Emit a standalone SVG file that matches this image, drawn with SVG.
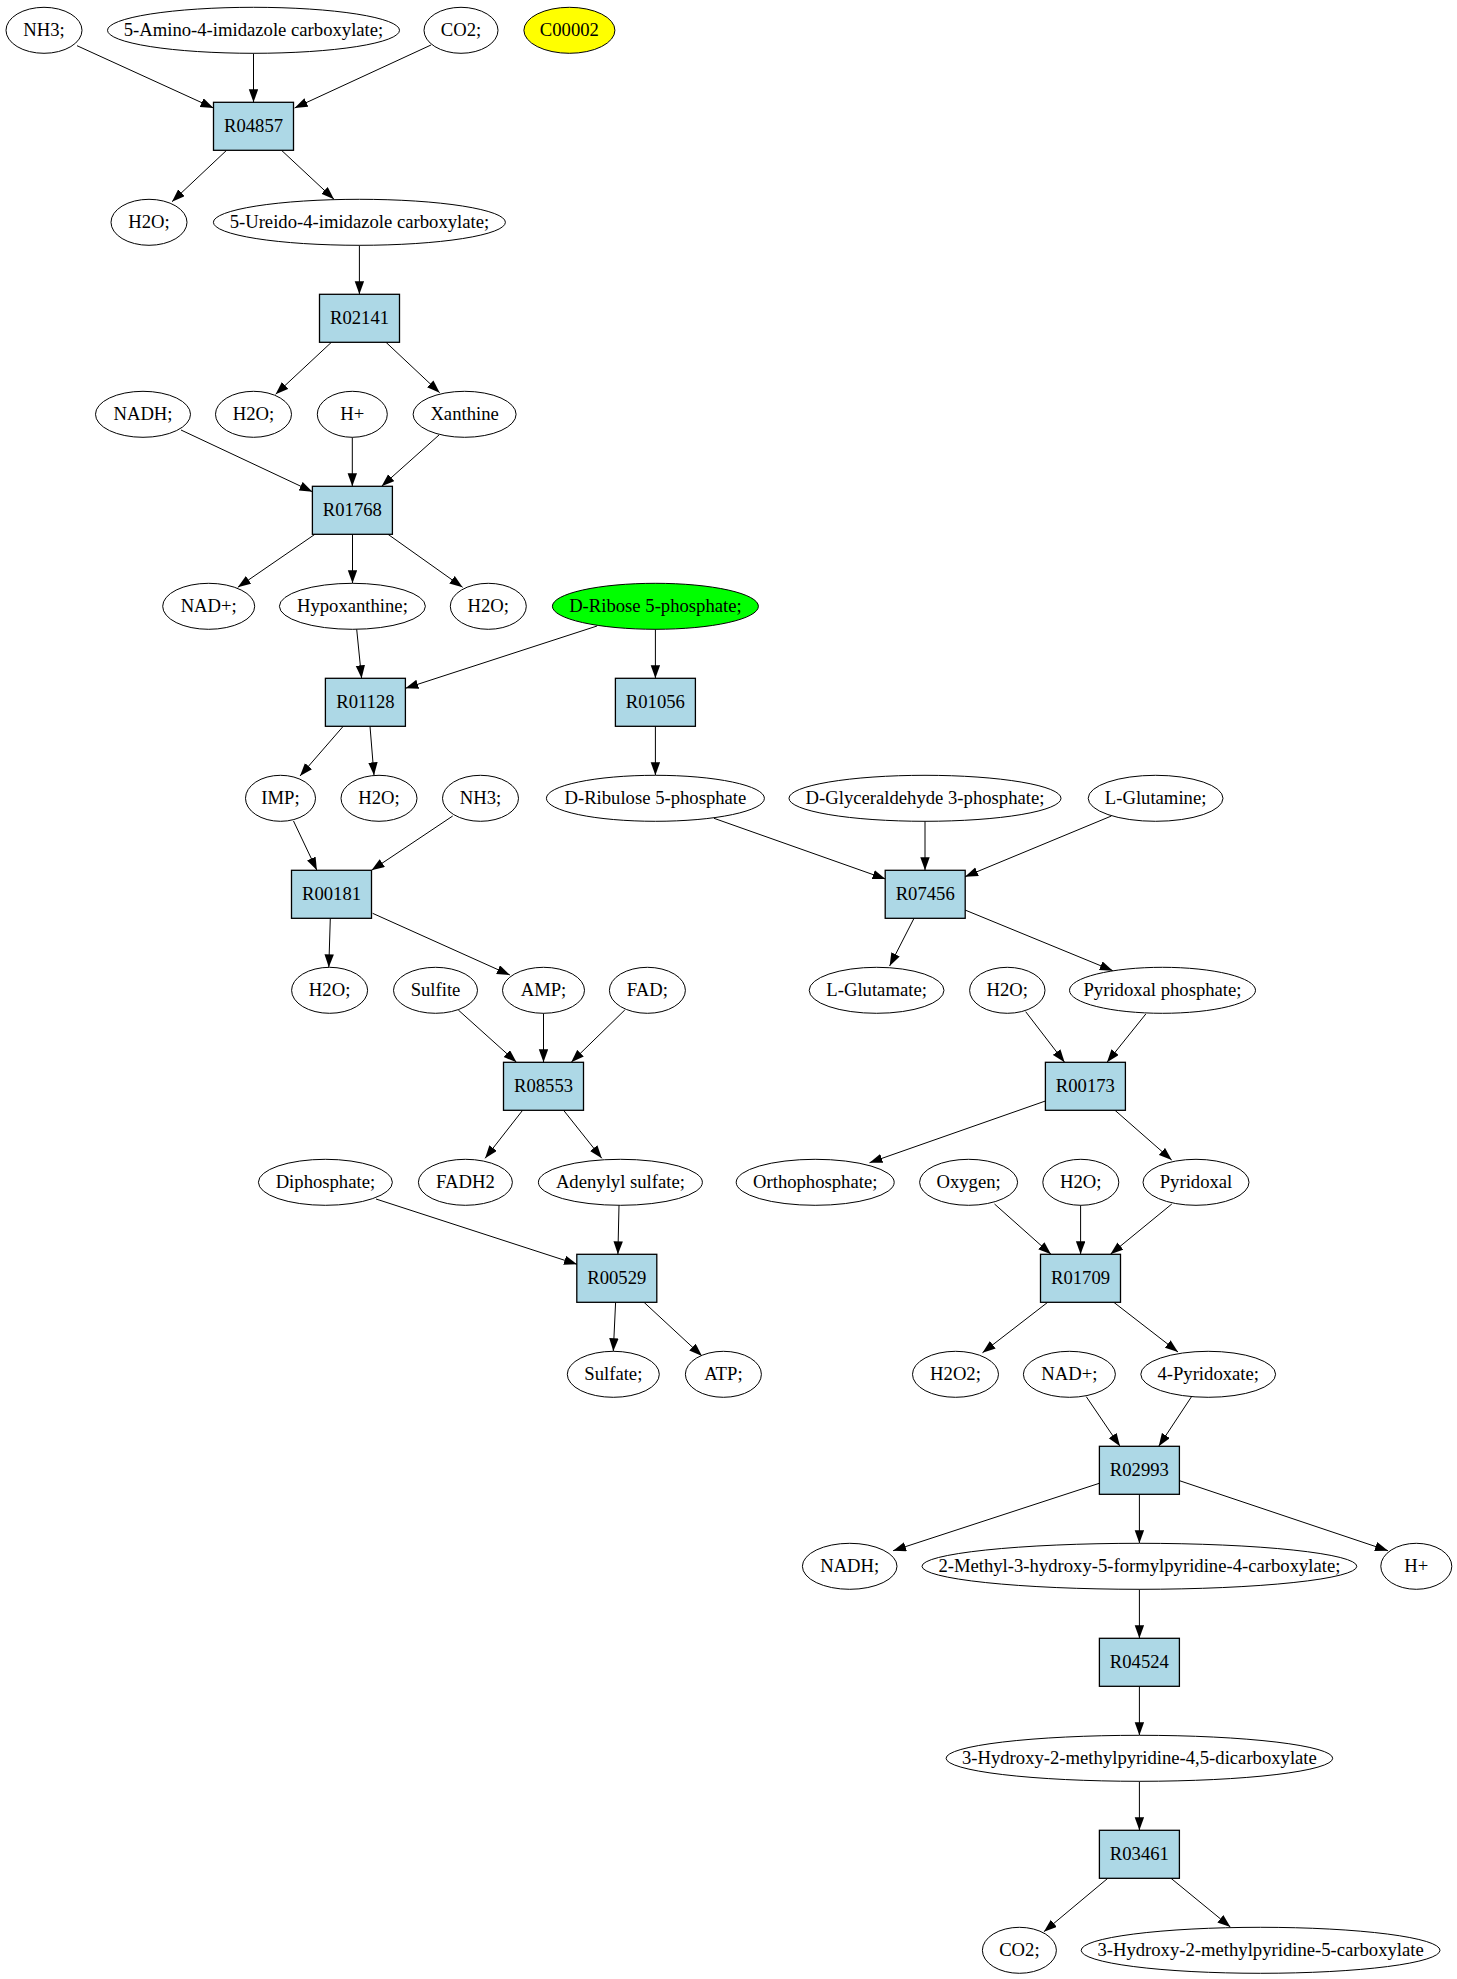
<svg xmlns="http://www.w3.org/2000/svg" width="1457" height="1979" viewBox="0 0 1457 1979">
<style>
.c ellipse{fill:#ffffff;stroke:#000;stroke-width:1}
.r rect{fill:#add8e6;stroke:#000;stroke-width:1.3}
text{font-family:"Liberation Serif","Times New Roman",serif;font-size:18.67px;text-anchor:middle;fill:#000}
#edges line{stroke:#000;stroke-width:1;marker-end:url(#ah)}
</style>
<defs>
<marker id="ah" markerUnits="userSpaceOnUse" markerWidth="14" markerHeight="10" refX="13" refY="4.7" orient="auto">
<path d="M0,0 L13,4.7 L0,9.4 z" fill="#000"/>
</marker>
</defs>
<rect x="0" y="0" width="1457" height="1979" fill="#fff"/>
<g id="edges">
<line x1="77" y1="45.7" x2="213.5" y2="108"/>
<line x1="253.5" y1="53.3" x2="253.5" y2="102.3"/>
<line x1="431" y1="45" x2="294.6" y2="108"/>
<line x1="226.6" y1="150.3" x2="172" y2="201.7"/>
<line x1="281.5" y1="150.3" x2="334" y2="199.3"/>
<line x1="359.4" y1="245.3" x2="359.4" y2="294.3"/>
<line x1="331.4" y1="342.3" x2="275.6" y2="394.3"/>
<line x1="386" y1="342.3" x2="439.7" y2="392.7"/>
<line x1="181" y1="430" x2="312.4" y2="491.7"/>
<line x1="352.3" y1="437.3" x2="352.3" y2="486.3"/>
<line x1="439" y1="435" x2="381.6" y2="486.3"/>
<line x1="314.9" y1="534.3" x2="237.8" y2="587.3"/>
<line x1="352.5" y1="534.3" x2="352.5" y2="583.3"/>
<line x1="388" y1="534.3" x2="462.6" y2="587.3"/>
<line x1="356.7" y1="629.3" x2="361.6" y2="678.3"/>
<line x1="597" y1="626" x2="405.4" y2="688.3"/>
<line x1="655.4" y1="629.3" x2="655.4" y2="678.3"/>
<line x1="343.2" y1="726.3" x2="300" y2="776"/>
<line x1="370" y1="726.3" x2="374" y2="775.3"/>
<line x1="655.4" y1="726.3" x2="655.4" y2="775.3"/>
<line x1="714" y1="818.3" x2="885.5" y2="879"/>
<line x1="925" y1="821.3" x2="925" y2="870.3"/>
<line x1="1111.4" y1="816" x2="965" y2="876.7"/>
<line x1="293.5" y1="821" x2="316.9" y2="870.3"/>
<line x1="452.7" y1="816" x2="371.5" y2="870.3"/>
<line x1="330.3" y1="918.3" x2="328.8" y2="967.3"/>
<line x1="372.6" y1="913.3" x2="509.9" y2="975"/>
<line x1="914" y1="918.3" x2="889.6" y2="966"/>
<line x1="965" y1="910" x2="1112.8" y2="970.7"/>
<line x1="458.3" y1="1010" x2="516.5" y2="1062.3"/>
<line x1="543.5" y1="1013.3" x2="543.5" y2="1062.3"/>
<line x1="624.8" y1="1010" x2="571.2" y2="1062.3"/>
<line x1="1025.7" y1="1011.7" x2="1064.6" y2="1062.3"/>
<line x1="1145.8" y1="1014" x2="1107" y2="1062.3"/>
<line x1="522.6" y1="1110.3" x2="485.1" y2="1158.3"/>
<line x1="563.6" y1="1110.3" x2="601.8" y2="1158.3"/>
<line x1="1045.4" y1="1101" x2="869.5" y2="1162.7"/>
<line x1="1115" y1="1110.3" x2="1171.7" y2="1160"/>
<line x1="376" y1="1199" x2="577" y2="1264.3"/>
<line x1="619" y1="1205.3" x2="617.9" y2="1254.3"/>
<line x1="994.5" y1="1204" x2="1051" y2="1254.3"/>
<line x1="1080.6" y1="1205.3" x2="1080.6" y2="1254.3"/>
<line x1="1171.8" y1="1204" x2="1110.4" y2="1254.3"/>
<line x1="615.6" y1="1302.3" x2="613.3" y2="1351.3"/>
<line x1="644" y1="1302.3" x2="702" y2="1356"/>
<line x1="1047.7" y1="1302.3" x2="982.5" y2="1352.7"/>
<line x1="1113.8" y1="1302.3" x2="1178" y2="1352"/>
<line x1="1086.3" y1="1396.7" x2="1120" y2="1446.3"/>
<line x1="1191.5" y1="1396.7" x2="1158.7" y2="1446.3"/>
<line x1="1099.3" y1="1483.3" x2="893.1" y2="1550.7"/>
<line x1="1139.4" y1="1494.3" x2="1139.4" y2="1543.3"/>
<line x1="1179.5" y1="1480.7" x2="1388" y2="1550.7"/>
<line x1="1139.4" y1="1589.3" x2="1139.4" y2="1638.3"/>
<line x1="1139.4" y1="1686.3" x2="1139.4" y2="1735.3"/>
<line x1="1139.4" y1="1781.3" x2="1139.4" y2="1830.3"/>
<line x1="1107.8" y1="1878.3" x2="1043.9" y2="1931.7"/>
<line x1="1171" y1="1878.3" x2="1230.4" y2="1927"/>
</g>
<g class="c">
<g id="n_NH3_a"><ellipse cx="44" cy="30.3" rx="38" ry="23"/><text x="44" y="36.3">NH3;</text></g>
<g id="n_5amino"><ellipse cx="253.5" cy="30.3" rx="146" ry="23"/><text x="253.5" y="36.3">5-Amino-4-imidazole carboxylate;</text></g>
<g id="n_CO2_a"><ellipse cx="461" cy="30.3" rx="37" ry="23"/><text x="461" y="36.3">CO2;</text></g>
<g id="n_C00002"><ellipse cx="569.4" cy="30.3" rx="45.5" ry="23" style="fill:#ffff00"/><text x="569.4" y="36.3">C00002</text></g>
<g id="n_H2O_a"><ellipse cx="149" cy="222.3" rx="38" ry="23"/><text x="149" y="228.3">H2O;</text></g>
<g id="n_5ureido"><ellipse cx="359.4" cy="222.3" rx="146" ry="23"/><text x="359.4" y="228.3">5-Ureido-4-imidazole carboxylate;</text></g>
<g id="n_NADH_a"><ellipse cx="143" cy="414.3" rx="47.5" ry="23"/><text x="143" y="420.3">NADH;</text></g>
<g id="n_H2O_b"><ellipse cx="253.5" cy="414.3" rx="38" ry="23"/><text x="253.5" y="420.3">H2O;</text></g>
<g id="n_Hplus_a"><ellipse cx="352.3" cy="414.3" rx="35" ry="23"/><text x="352.3" y="420.3">H+</text></g>
<g id="n_Xanthine"><ellipse cx="464.6" cy="414.3" rx="51.5" ry="23"/><text x="464.6" y="420.3">Xanthine</text></g>
<g id="n_NADp_a"><ellipse cx="208.7" cy="606.3" rx="46" ry="23"/><text x="208.7" y="612.3">NAD+;</text></g>
<g id="n_Hypoxanthine"><ellipse cx="352.4" cy="606.3" rx="73" ry="23"/><text x="352.4" y="612.3">Hypoxanthine;</text></g>
<g id="n_H2O_c"><ellipse cx="488.3" cy="606.3" rx="38" ry="23"/><text x="488.3" y="612.3">H2O;</text></g>
<g id="n_DRibose"><ellipse cx="655.4" cy="606.3" rx="103" ry="23" style="fill:#00ff00"/><text x="655.4" y="612.3">D-Ribose 5-phosphate;</text></g>
<g id="n_IMP"><ellipse cx="280.5" cy="798.3" rx="35" ry="23"/><text x="280.5" y="804.3">IMP;</text></g>
<g id="n_H2O_d"><ellipse cx="379" cy="798.3" rx="38" ry="23"/><text x="379" y="804.3">H2O;</text></g>
<g id="n_NH3_b"><ellipse cx="480.5" cy="798.3" rx="38" ry="23"/><text x="480.5" y="804.3">NH3;</text></g>
<g id="n_DRibulose"><ellipse cx="655.4" cy="798.3" rx="109" ry="23"/><text x="655.4" y="804.3">D-Ribulose 5-phosphate</text></g>
<g id="n_DGlyc"><ellipse cx="925" cy="798.3" rx="136" ry="23"/><text x="925" y="804.3">D-Glyceraldehyde 3-phosphate;</text></g>
<g id="n_LGlutamine"><ellipse cx="1155.6" cy="798.3" rx="67.4" ry="23"/><text x="1155.6" y="804.3">L-Glutamine;</text></g>
<g id="n_H2O_e"><ellipse cx="329.6" cy="990.3" rx="38" ry="23"/><text x="329.6" y="996.3">H2O;</text></g>
<g id="n_Sulfite"><ellipse cx="435.5" cy="990.3" rx="42" ry="23"/><text x="435.5" y="996.3">Sulfite</text></g>
<g id="n_AMP"><ellipse cx="543.5" cy="990.3" rx="41" ry="23"/><text x="543.5" y="996.3">AMP;</text></g>
<g id="n_FAD"><ellipse cx="647.4" cy="990.3" rx="38" ry="23"/><text x="647.4" y="996.3">FAD;</text></g>
<g id="n_LGlutamate"><ellipse cx="876.6" cy="990.3" rx="67.4" ry="23"/><text x="876.6" y="996.3">L-Glutamate;</text></g>
<g id="n_H2O_f"><ellipse cx="1007.3" cy="990.3" rx="37.7" ry="23"/><text x="1007.3" y="996.3">H2O;</text></g>
<g id="n_PLP"><ellipse cx="1162.5" cy="990.3" rx="93" ry="23"/><text x="1162.5" y="996.3">Pyridoxal phosphate;</text></g>
<g id="n_Diphosphate"><ellipse cx="325.4" cy="1182.3" rx="67" ry="23"/><text x="325.4" y="1188.3">Diphosphate;</text></g>
<g id="n_FADH2"><ellipse cx="465.4" cy="1182.3" rx="47" ry="23"/><text x="465.4" y="1188.3">FADH2</text></g>
<g id="n_APS"><ellipse cx="620.4" cy="1182.3" rx="82" ry="23"/><text x="620.4" y="1188.3">Adenylyl sulfate;</text></g>
<g id="n_Orthophosphate"><ellipse cx="815.2" cy="1182.3" rx="79" ry="23"/><text x="815.2" y="1188.3">Orthophosphate;</text></g>
<g id="n_Oxygen"><ellipse cx="968.6" cy="1182.3" rx="49" ry="23"/><text x="968.6" y="1188.3">Oxygen;</text></g>
<g id="n_H2O_g"><ellipse cx="1080.8" cy="1182.3" rx="38" ry="23"/><text x="1080.8" y="1188.3">H2O;</text></g>
<g id="n_Pyridoxal"><ellipse cx="1196" cy="1182.3" rx="53" ry="23"/><text x="1196" y="1188.3">Pyridoxal</text></g>
<g id="n_Sulfate"><ellipse cx="613.3" cy="1374.3" rx="46" ry="23"/><text x="613.3" y="1380.3">Sulfate;</text></g>
<g id="n_ATP"><ellipse cx="723.4" cy="1374.3" rx="38" ry="23"/><text x="723.4" y="1380.3">ATP;</text></g>
<g id="n_H2O2"><ellipse cx="955.5" cy="1374.3" rx="43" ry="23"/><text x="955.5" y="1380.3">H2O2;</text></g>
<g id="n_NADp_b"><ellipse cx="1069.4" cy="1374.3" rx="46" ry="23"/><text x="1069.4" y="1380.3">NAD+;</text></g>
<g id="n_4Pyridoxate"><ellipse cx="1208.2" cy="1374.3" rx="67.4" ry="23"/><text x="1208.2" y="1380.3">4-Pyridoxate;</text></g>
<g id="n_NADH_b"><ellipse cx="849.7" cy="1566.3" rx="47.3" ry="23"/><text x="849.7" y="1572.3">NADH;</text></g>
<g id="n_2Methyl"><ellipse cx="1139.4" cy="1566.3" rx="217.4" ry="23"/><text x="1139.4" y="1572.3">2-Methyl-3-hydroxy-5-formylpyridine-4-carboxylate;</text></g>
<g id="n_Hplus_b"><ellipse cx="1416.3" cy="1566.3" rx="35.5" ry="23"/><text x="1416.3" y="1572.3">H+</text></g>
<g id="n_3H45"><ellipse cx="1139.4" cy="1758.3" rx="193.3" ry="23"/><text x="1139.4" y="1764.3">3-Hydroxy-2-methylpyridine-4,5-dicarboxylate</text></g>
<g id="n_CO2_b"><ellipse cx="1019.4" cy="1950.3" rx="37" ry="23"/><text x="1019.4" y="1956.3">CO2;</text></g>
<g id="n_3H5"><ellipse cx="1260.6" cy="1950.3" rx="179.4" ry="23"/><text x="1260.6" y="1956.3">3-Hydroxy-2-methylpyridine-5-carboxylate</text></g>
</g>
<g class="r">
<g id="R04857"><rect x="213.5" y="102.3" width="80" height="48"/><text x="253.5" y="132.3">R04857</text></g>
<g id="R02141"><rect x="319.5" y="294.3" width="80" height="48"/><text x="359.5" y="324.3">R02141</text></g>
<g id="R01768"><rect x="312.4" y="486.3" width="80" height="48"/><text x="352.4" y="516.3">R01768</text></g>
<g id="R01128"><rect x="325.4" y="678.3" width="80" height="48"/><text x="365.4" y="708.3">R01128</text></g>
<g id="R01056"><rect x="615.4" y="678.3" width="80" height="48"/><text x="655.4" y="708.3">R01056</text></g>
<g id="R00181"><rect x="291.5" y="870.3" width="80" height="48"/><text x="331.5" y="900.3">R00181</text></g>
<g id="R07456"><rect x="885.2" y="870.3" width="80" height="48"/><text x="925.2" y="900.3">R07456</text></g>
<g id="R08553"><rect x="503.5" y="1062.3" width="80" height="48"/><text x="543.5" y="1092.3">R08553</text></g>
<g id="R00173"><rect x="1045.4" y="1062.3" width="80" height="48"/><text x="1085.4" y="1092.3">R00173</text></g>
<g id="R00529"><rect x="576.8" y="1254.3" width="80" height="48"/><text x="616.8" y="1284.3">R00529</text></g>
<g id="R01709"><rect x="1040.5" y="1254.3" width="80" height="48"/><text x="1080.5" y="1284.3">R01709</text></g>
<g id="R02993"><rect x="1099.4" y="1446.3" width="80" height="48"/><text x="1139.4" y="1476.3">R02993</text></g>
<g id="R04524"><rect x="1099.4" y="1638.3" width="80" height="48"/><text x="1139.4" y="1668.3">R04524</text></g>
<g id="R03461"><rect x="1099.4" y="1830.3" width="80" height="48"/><text x="1139.4" y="1860.3">R03461</text></g>
</g>
</svg>
